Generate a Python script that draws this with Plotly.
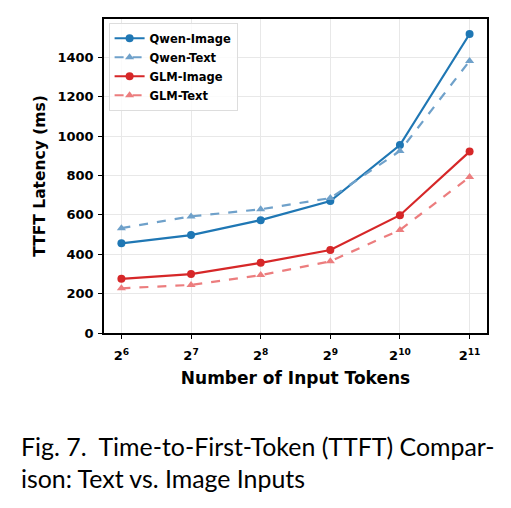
import plotly.graph_objects as go
import math

tokens = [64, 128, 256, 512, 1024, 2048]
tick_labels = ["2<sup>6</sup>", "2<sup>7</sup>", "2<sup>8</sup>", "2<sup>9</sup>", "2<sup>10</sup>", "2<sup>11</sup>"]
qwen_image = [455, 497, 573, 670, 954, 1518]
qwen_text = [532, 592, 628, 685, 924, 1381]
glm_image = [275, 299, 356, 421, 598, 921]
glm_text = [227, 244, 294, 364, 523, 792]
y_ticks = [0, 200, 400, 600, 800, 1000, 1200, 1400]

series = [
    ("Qwen-Image", qwen_image, "#1f77b4", "solid", "circle"),
    ("Qwen-Text", qwen_text, "#6fa1ca", "dash", "triangle-up"),
    ("GLM-Image", glm_image, "#d62728", "solid", "circle"),
    ("GLM-Text", glm_text, "#ec7d7e", "dash", "triangle-up"),
]

fig = go.Figure()
for name, vals, color, dash, sym in series:
    fig.add_trace(go.Scatter(
        x=tokens, y=vals, name=name, mode="lines+markers",
        line=dict(color=color, width=2.2, dash=dash),
        marker=dict(color=color, size=8, symbol=sym),
    ))

half = 0.25 * math.log10(2)
fig.update_layout(
    width=511, height=508,
    margin=dict(l=104, r=24, t=19, b=175),
    paper_bgcolor="white", plot_bgcolor="white",
    font=dict(family="DejaVu Sans", color="black"),
    showlegend=True,
    legend=dict(
        x=0.012, y=0.988, xanchor="left", yanchor="top",
        bgcolor="rgba(255,255,255,0.8)", bordercolor="#dddddd", borderwidth=1,
        font=dict(family="DejaVu Sans", size=11.5, color="black", weight="bold"),
        itemwidth=30, tracegroupgap=0,
    ),
    xaxis=dict(
        type="log",
        range=[math.log10(64) - half, math.log10(2048) + half],
        tickvals=tokens, ticktext=[f"<b>{t}</b>" for t in tick_labels],
        tickfont=dict(size=13, family="DejaVu Sans"),
        ticks="outside", ticklen=4, tickwidth=1.2, tickcolor="black",
        ticklabelstandoff=6,
        showline=True, linecolor="black", linewidth=1.5, mirror=True,
        showgrid=True, gridcolor="#e8e8e8", gridwidth=1,
        title=dict(text="<b>Number of Input Tokens</b>", font=dict(size=17, family="DejaVu Sans"), standoff=10),
        zeroline=False,
    ),
    yaxis=dict(
        range=[0, 1594],
        tickvals=y_ticks, ticktext=[f"<b>{v}</b>" for v in y_ticks],
        tickfont=dict(size=13, family="DejaVu Sans"),
        ticks="outside", ticklen=4, tickwidth=1.2, tickcolor="black",
        ticklabelstandoff=2,
        showline=True, linecolor="black", linewidth=1.5, mirror=True,
        showgrid=True, gridcolor="#e8e8e8", gridwidth=1,
        title=dict(text="<b>TTFT Latency (ms)</b>", font=dict(size=15.5, family="DejaVu Sans"), standoff=8),
        zeroline=False,
    ),
)

fig.add_annotation(
    xref="paper", yref="paper", x=-0.222, y=-0.305, xanchor="left", yanchor="top",
    text="Fig. 7.  Time-to-First-Token (TTFT) Compar-<br>ison: Text vs. Image Inputs",
    showarrow=False, align="left",
    font=dict(family="Lato", size=24.9, color="black"),
)

fig.write_html("out.html")
